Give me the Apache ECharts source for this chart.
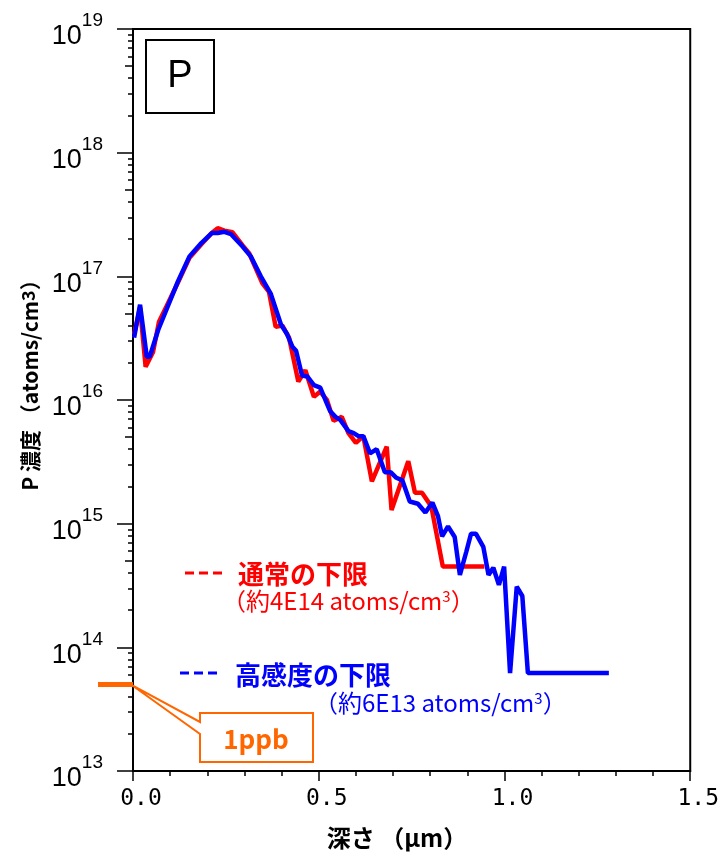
<!DOCTYPE html>
<html>
<head>
<meta charset="utf-8">
<script src="https://cdn.jsdelivr.net/npm/echarts@6/dist/echarts.min.js"></script>
<style>
  html, body { margin: 0; padding: 0; background: #fff; }
  #chart { width: 722px; height: 854px; }
</style>
</head>
<body>
<div id="chart"></div>
<script>
// depth (µm) / P concentration (atoms/cm3)
const depthRed = [0.003, 0.019, 0.034, 0.054, 0.070, 0.090, 0.121, 0.152, 0.184, 0.212, 0.228, 0.246, 0.268, 0.295, 0.313, 0.348, 0.366, 0.384, 0.402, 0.420, 0.445, 0.464, 0.487, 0.504, 0.522, 0.540, 0.562, 0.580, 0.600, 0.620, 0.643, 0.683, 0.696, 0.741, 0.759, 0.778, 0.803, 0.834, 0.946];
const concRed = [3.4e16, 5.6e16, 1.86e16, 2.45e16, 4.3e16, 5.7e16, 8.9e16, 1.41e17, 1.82e17, 2.24e17, 2.45e17, 2.34e17, 2.27e17, 1.78e17, 1.53e17, 8.8e16, 7.5e16, 3.9e16, 4.0e16, 3.2e16, 1.41e16, 1.74e16, 1.06e16, 1.17e16, 1.0e16, 6.8e15, 7.3e15, 5.4e15, 4.5e15, 5.1e15, 2.2e15, 4.2e15, 1.29e15, 3.2e15, 1.78e15, 1.78e15, 1.38e15, 4.5e14, 4.5e14];

const depthBlue = [0.003, 0.019, 0.037, 0.045, 0.068, 0.121, 0.152, 0.184, 0.212, 0.228, 0.246, 0.264, 0.295, 0.317, 0.344, 0.371, 0.398, 0.415, 0.429, 0.439, 0.455, 0.469, 0.487, 0.504, 0.518, 0.531, 0.545, 0.558, 0.580, 0.594, 0.607, 0.620, 0.638, 0.656, 0.678, 0.694, 0.709, 0.725, 0.745, 0.767, 0.787, 0.806, 0.821, 0.832, 0.848, 0.866, 0.880, 0.897, 0.910, 0.923, 0.943, 0.957, 0.970, 0.985, 0.999, 1.015, 1.033, 1.048, 1.063, 1.281];
const concBlue = [3.2e16, 5.9e16, 2.24e16, 2.24e16, 3.7e16, 9.1e16, 1.45e17, 1.86e17, 2.24e17, 2.24e17, 2.29e17, 2.19e17, 1.74e17, 1.45e17, 1.0e17, 7.2e16, 4.1e16, 3.4e16, 2.7e16, 2.5e16, 1.58e16, 1.55e16, 1.32e16, 1.26e16, 1.0e16, 8.1e15, 7.3e15, 6.9e15, 5.6e15, 5.4e15, 5.1e15, 5.1e15, 3.7e15, 4.0e15, 2.6e15, 2.6e15, 2.35e15, 2.24e15, 1.51e15, 1.45e15, 1.23e15, 1.48e15, 1.15e15, 7.9e14, 9.5e14, 7.8e14, 3.85e14, 5.9e14, 8.3e14, 8.3e14, 6.5e14, 3.85e14, 4.4e14, 3.2e14, 4.5e14, 6.2e13, 3.1e14, 2.6e14, 6.2e13, 6.2e13];

const decadeTicks = [1e13, 1e14, 1e15, 1e16, 1e17, 1e18, 1e19];
const halfTicks = [5e13, 5e14, 5e15, 5e16, 5e17, 5e18];
const minorTicks = [];
decadeTicks.slice(0, -1).forEach(d => [2, 3, 4, 6, 7, 8, 9].forEach(m => minorTicks.push(d * m)));

const onePpb = 5e13;

const JP = '"Noto Sans CJK JP", sans-serif';
const RED = '#ff0000', BLUE = '#0000ff', ORANGE = '#ff6600';

const chart = echarts.init(document.getElementById('chart'));

function tickAxis(values, len) {
  return {
    type: 'log', logBase: 10, min: 1e13, max: 1e19, position: 'left',
    axisLine: { show: false },
    axisLabel: { show: false },
    splitLine: { show: false },
    axisTick: { show: true, length: len, customValues: values, lineStyle: { color: '#000', width: 1.5 } },
  };
}

chart.setOption({
  animation: false,
  grid: { left: 133, right: 28, top: 29, bottom: 83, show: true, borderColor: '#000', borderWidth: 2 },
  xAxis: {
    type: 'value', min: 0, max: 1.5, interval: 0.5,
    axisLine: { lineStyle: { color: '#000', width: 2 } },
    axisTick: { length: 10, lineStyle: { color: '#000', width: 1.5 } },
    minorTick: { show: true, splitNumber: 5, length: 5, lineStyle: { color: '#000', width: 1.5 } },
    splitLine: { show: false },
    axisLabel: {
      margin: 17, color: '#000', fontSize: 23, fontFamily: '"DejaVu Sans Mono", monospace',
      padding: [0, 0, 0, 16],
      formatter: v => v.toFixed(1),
    },
  },
  yAxis: [
    {
      type: 'log', logBase: 10, min: 1e13, max: 1e19,
      axisLine: { show: true, lineStyle: { color: '#000', width: 2 } },
      axisTick: { show: true, length: 16, customValues: decadeTicks, lineStyle: { color: '#000', width: 1.5 } },
      splitLine: { show: false },
      axisLabel: {
        margin: 30, customValues: decadeTicks,
        formatter: v => '{b|10}{s|' + Math.round(Math.log10(v)) + '}',
        rich: {
          b: { fontSize: 27, color: '#000', fontFamily: 'Liberation Sans', padding: [16, 0, 0, 0], verticalAlign: 'bottom' },
          s: { fontSize: 19, color: '#000', fontFamily: 'Liberation Sans', padding: [4, 0, 0, 0], verticalAlign: 'top' },
        },
      },
    },
    tickAxis(minorTicks, 5),
    tickAxis(halfTicks, 8),
  ],
  series: [
    {
      name: '通常の下限', type: 'line', showSymbol: false, symbol: 'none',
      data: depthRed.map((d, i) => [d, concRed[i]]),
      lineStyle: { color: RED, width: 4.5 }, z: 2,
    },
    {
      name: '高感度の下限', type: 'line', showSymbol: false, symbol: 'none',
      data: depthBlue.map((d, i) => [d, concBlue[i]]),
      lineStyle: { color: BLUE, width: 4.5 }, z: 3,
    },
  ],
});

// 1ppb marker sits on the y scale
const ppbY = chart.convertToPixel({ yAxisIndex: 0 }, onePpb);
const axisX = chart.convertToPixel({ xAxisIndex: 0 }, 0);

chart.setOption({
  graphic: [
    { type: 'rect', shape: { x: 146, y: 40, width: 68, height: 73 }, style: { fill: '#fff', stroke: '#000', lineWidth: 2 } },
    { type: 'text', x: 180, y: 77, style: { text: 'P', fontSize: 38, fontFamily: 'Liberation Sans', fill: '#000', align: 'center', verticalAlign: 'middle' } },

    { type: 'line', shape: { x1: 185, y1: 573, x2: 222, y2: 573 }, style: { stroke: RED, lineWidth: 3, lineDash: [9, 5] } },
    { type: 'text', x: 238, y: 574, style: { text: '通常の下限', fontSize: 26, fontWeight: 'bold', fontFamily: JP, fill: RED, verticalAlign: 'middle' } },
    { type: 'text', x: 222, y: 601, style: {
      text: '{n|（約4E14 atoms/cm}{s|3}{n|）}', verticalAlign: 'middle',
      rich: { n: { fontSize: 24, fontFamily: JP, fill: RED }, s: { fontSize: 15, fontFamily: JP, fill: RED, verticalAlign: 'top' } },
    } },

    { type: 'line', shape: { x1: 180, y1: 673, x2: 220, y2: 673 }, style: { stroke: BLUE, lineWidth: 3, lineDash: [9, 5] } },
    { type: 'text', x: 235, y: 675, style: { text: '高感度の下限', fontSize: 26, fontWeight: 'bold', fontFamily: JP, fill: BLUE, verticalAlign: 'middle' } },
    { type: 'text', x: 314, y: 703, style: {
      text: '{n|（約6E13 atoms/cm}{s|3}{n|）}', verticalAlign: 'middle',
      rich: { n: { fontSize: 24, fontFamily: JP, fill: BLUE }, s: { fontSize: 15, fontFamily: JP, fill: BLUE, verticalAlign: 'top' } },
    } },

    { type: 'line', shape: { x1: 98, y1: ppbY, x2: axisX, y2: ppbY }, style: { stroke: ORANGE, lineWidth: 5 }, z: 10 },
    { type: 'polygon', shape: { points: [[200, 713], [313, 713], [313, 762], [200, 762], [200, 734], [axisX - 2, ppbY], [200, 722]] },
      style: { fill: '#fff', stroke: ORANGE, lineWidth: 2 }, z: 10 },
    { type: 'text', x: 256, y: 739, z: 11, style: { text: '1ppb', fontSize: 26, fontWeight: 'bold', fontFamily: JP, fill: ORANGE, align: 'center', verticalAlign: 'middle' } },

    { type: 'text', x: 30, y: 380, rotation: Math.PI / 2, style: {
      text: '{n|P 濃度 （atoms/cm}{s|3}{n|）}', align: 'center', verticalAlign: 'middle',
      rich: { n: { fontSize: 21, fontWeight: 'bold', fontFamily: JP, fill: '#000' }, s: { fontSize: 18, fontWeight: 'bold', fontFamily: JP, fill: '#000', verticalAlign: 'top' } },
    } },
    { type: 'text', x: 397, y: 838, style: { text: '深さ （μm）', fontSize: 24, fontWeight: 'bold', fontFamily: JP, fill: '#000', align: 'center', verticalAlign: 'middle' } },
  ],
});
</script>
</body>
</html>
